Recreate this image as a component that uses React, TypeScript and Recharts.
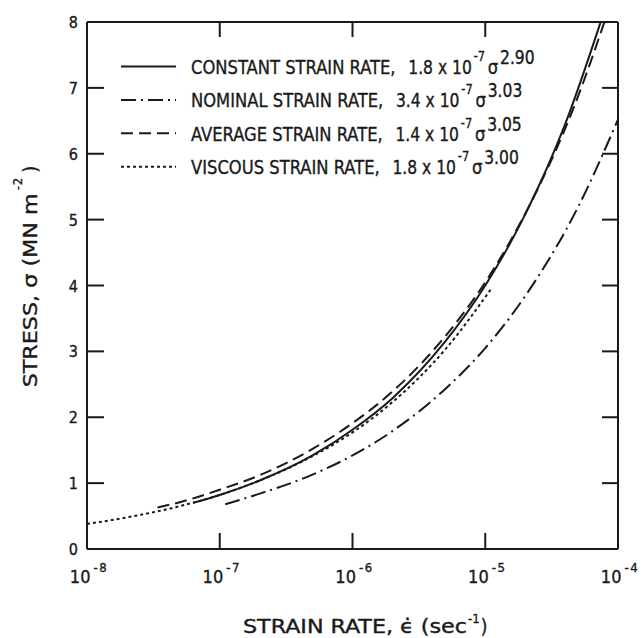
import { Legend, Line, LineChart, XAxis, YAxis } from "recharts";

const FONT =
  "'DejaVu Sans Condensed', 'Liberation Sans Narrow', 'DejaVu Sans', sans-serif";
const INK = "#1a1a1a";

// legend text
const seriesNames = [
  "CONSTANT STRAIN RATE,",
  "NOMINAL STRAIN RATE,",
  "AVERAGE STRAIN RATE,",
  "VISCOUS STRAIN RATE,",
];
const coefficients = ["1.8", "3.4", "1.4", "1.8"];
const powers = ["2.90", "3.03", "3.05", "3.00"];

// axis ticks
const rateTicks = [1e-8, 1e-7, 1e-6, 1e-5, 1e-4];
const stressTicks = [0, 1, 2, 3, 4, 5, 6, 7, 8];

// curves (strain rate, stress)
const constantRate = [6.3e-8, 1e-7, 2e-7, 5e-7, 1e-6, 2e-6, 5e-6, 1e-5, 2e-5, 4e-5, 7.4e-5];
const constantStress = [0.7, 0.82, 1.04, 1.42, 1.81, 2.29, 3.15, 4.0, 5.08, 6.45, 8.0];

const nominalRate = [1.1e-7, 2e-7, 5e-7, 1e-6, 2e-6, 5e-6, 1e-5, 2e-5, 5e-5, 1e-4];
const nominalStress = [0.68, 0.84, 1.13, 1.42, 1.79, 2.43, 3.05, 3.84, 5.19, 6.52];

const averageRate = [3.4e-8, 5e-8, 1e-7, 2e-7, 5e-7, 1e-6, 2e-6, 5e-6, 1e-5, 2e-5, 5e-5, 7.9e-5];
const averageStress = [0.63, 0.71, 0.9, 1.12, 1.52, 1.91, 2.39, 3.23, 4.05, 5.09, 6.87, 8.0];

const viscousRate = [1e-8, 2e-8, 5e-8, 1e-7, 2e-7, 5e-7, 1e-6, 2e-6, 5e-6, 1.1e-5];
const viscousStress = [0.38, 0.48, 0.65, 0.82, 1.04, 1.41, 1.77, 2.23, 3.03, 3.94];

const toPoints = (rates: number[], stress: number[]) =>
  rates.map((rate, i) => ({ rate, stress: stress[i] }));

const series = [
  { name: seriesNames[0], data: toPoints(constantRate, constantStress), dash: undefined },
  { name: seriesNames[1], data: toPoints(nominalRate, nominalStress), dash: "15 5 2 5" },
  { name: seriesNames[2], data: toPoints(averageRate, averageStress), dash: "12 6" },
  { name: seriesNames[3], data: toPoints(viscousRate, viscousStress), dash: "3 3" },
];

const decade = (v: number) => Math.round(Math.log10(v));

// a hairline outline thickens the glyphs a little, like the printed lettering
const textStyle = { fill: INK, stroke: INK, strokeWidth: 0.35, fontFamily: FONT };

const BottomTick = ({ x, y, payload }: any) => {
  const inner = payload.value > 1e-8 && payload.value < 1e-4;
  return (
    <g>
      {inner && <line x1={x} y1={y} x2={x} y2={y - 16} stroke={INK} strokeWidth={2} />}
      <text x={x + 2} y={y + 34} textAnchor="middle" fontSize={18} {...textStyle}>
        10
        <tspan dx={3} dy={-11} fontSize={13} letterSpacing={1.5}>
          {`-${Math.abs(decade(payload.value))}`}
        </tspan>
      </text>
    </g>
  );
};

const TopTick = ({ x, y, payload }: any) =>
  payload.value > 1e-8 && payload.value < 1e-4 ? (
    <line x1={x} y1={y} x2={x} y2={y + 15} stroke={INK} strokeWidth={2} />
  ) : null;

const LeftTick = ({ x, y, payload }: any) => {
  const inner = payload.value > 0 && payload.value < 8;
  return (
    <g>
      {inner && <line x1={x} y1={y} x2={x + 17} y2={y} stroke={INK} strokeWidth={2} />}
      <text x={x - 9} y={y + 6} textAnchor="end" fontSize={16} {...textStyle}>
        {payload.value}
      </text>
    </g>
  );
};

const RightTick = ({ x, y, payload }: any) =>
  payload.value > 0 && payload.value < 8 ? (
    <line x1={x} y1={y} x2={x - 16} y2={y} stroke={INK} strokeWidth={2} />
  ) : null;

const XTitle = ({ viewBox }: any) => {
  const x0 = viewBox.x + 156;
  const y0 = viewBox.y + 84;
  return (
    <text x={x0} y={y0} fontSize={19} {...textStyle}>
      <tspan textLength={224} lengthAdjust="spacingAndGlyphs">
        {"STRAIN RATE, \u03F5\u0307 (sec"}
      </tspan>
      <tspan dx={1} dy={-10} fontSize={13}>-1</tspan>
      <tspan dy={10} dx={1}>)</tspan>
    </text>
  );
};

const YTitle = ({ viewBox }: any) => {
  const cx = 37;
  const cy = viewBox.y + viewBox.height / 2 - 9;
  return (
    <text
      x={cx}
      y={cy}
      transform={`rotate(-90, ${cx}, ${cy})`}
      textAnchor="middle"
      fontSize={20}
      {...textStyle}
    >
      <tspan textLength={194} lengthAdjust="spacingAndGlyphs">
        {"STRESS, \u03C3  (MN  m"}
      </tspan>
      <tspan dy={-15} dx={3} fontSize={13} letterSpacing={1}>-2</tspan>
      <tspan dy={15} dx={4}>)</tspan>
    </text>
  );
};

// rows are squeezed horizontally to get the narrow lettering of the original
const LegendBox = ({ payload }: any) => (
  <svg width={641} height={190} style={{ display: "block" }}>
    {(payload || []).map((entry: any) => {
      const i = seriesNames.indexOf(entry.value);
      const yb = 74 + i * 33.4;
      return (
        <g key={seriesNames[i]}>
          <line
            x1={121}
            x2={176}
            y1={yb - 7.5}
            y2={yb - 7.5}
            stroke={INK}
            strokeWidth={2}
            strokeDasharray={entry.payload?.strokeDasharray}
          />
          <text
            transform={`translate(191, ${yb}) scale(0.91, 1)`}
            x={0}
            y={0}
            fontSize={20}
            {...textStyle}
          >
            {seriesNames[i]}
            <tspan dx={14} fontSize={19}>{`${coefficients[i]} x 10`}</tspan>
            <tspan dx={2} dy={-13} fontSize={14}>-7</tspan>
            <tspan dx={3} dy={13} fontSize={20}>{"\u03C3"}</tspan>
            <tspan dx={2} dy={-10} fontSize={19}>{powers[i]}</tspan>
          </text>
        </g>
      );
    })}
  </svg>
);

export default function App() {
  return (
    <div
      style={{
        position: "absolute",
        left: 0,
        top: 0,
        width: 641,
        height: 638,
        background: "#fff",
      }}
    >
      <LineChart
        width={641}
        height={638}
        margin={{ top: 12, right: 13, bottom: 39, left: 27 }}
      >
        <XAxis
          xAxisId="bottom"
          dataKey="rate"
          type="number"
          scale="log"
          domain={[1e-8, 1e-4]}
          ticks={rateTicks}
          interval={0}
          allowDataOverflow
          height={50}
          tickSize={0}
          tickMargin={0}
          tickLine={false}
          tick={<BottomTick />}
          axisLine={{ stroke: INK, strokeWidth: 2 }}
          label={{ content: XTitle }}
        />
        <XAxis
          xAxisId="top"
          orientation="top"
          dataKey="rate"
          type="number"
          scale="log"
          domain={[1e-8, 1e-4]}
          ticks={rateTicks}
          interval={0}
          allowDataOverflow
          height={10}
          tickSize={0}
          tickMargin={0}
          tickLine={false}
          tick={<TopTick />}
          axisLine={{ stroke: INK, strokeWidth: 2 }}
        />
        <YAxis
          yAxisId="left"
          type="number"
          domain={[0, 8]}
          ticks={stressTicks}
          interval={0}
          allowDataOverflow
          width={60}
          tickSize={0}
          tickMargin={0}
          tickLine={false}
          tick={<LeftTick />}
          axisLine={{ stroke: INK, strokeWidth: 2 }}
          label={{ content: YTitle }}
        />
        <YAxis
          yAxisId="right"
          orientation="right"
          type="number"
          domain={[0, 8]}
          ticks={stressTicks}
          interval={0}
          allowDataOverflow
          width={10}
          tickSize={0}
          tickMargin={0}
          tickLine={false}
          tick={<RightTick />}
          axisLine={{ stroke: INK, strokeWidth: 2 }}
        />
        {series.map((s) => (
          <Line
            key={s.name}
            name={s.name}
            data={s.data}
            dataKey="stress"
            xAxisId="bottom"
            yAxisId="left"
            type="monotone"
            stroke={INK}
            strokeWidth={2}
            strokeDasharray={s.dash}
            dot={false}
            activeDot={false}
            isAnimationActive={false}
          />
        ))}
        <Legend
          layout="vertical"
          align="center"
          verticalAlign="middle"
          wrapperStyle={{ left: 0, top: 0, width: 641, height: 190, pointerEvents: "none" }}
          content={LegendBox}
        />
      </LineChart>
    </div>
  );
}
